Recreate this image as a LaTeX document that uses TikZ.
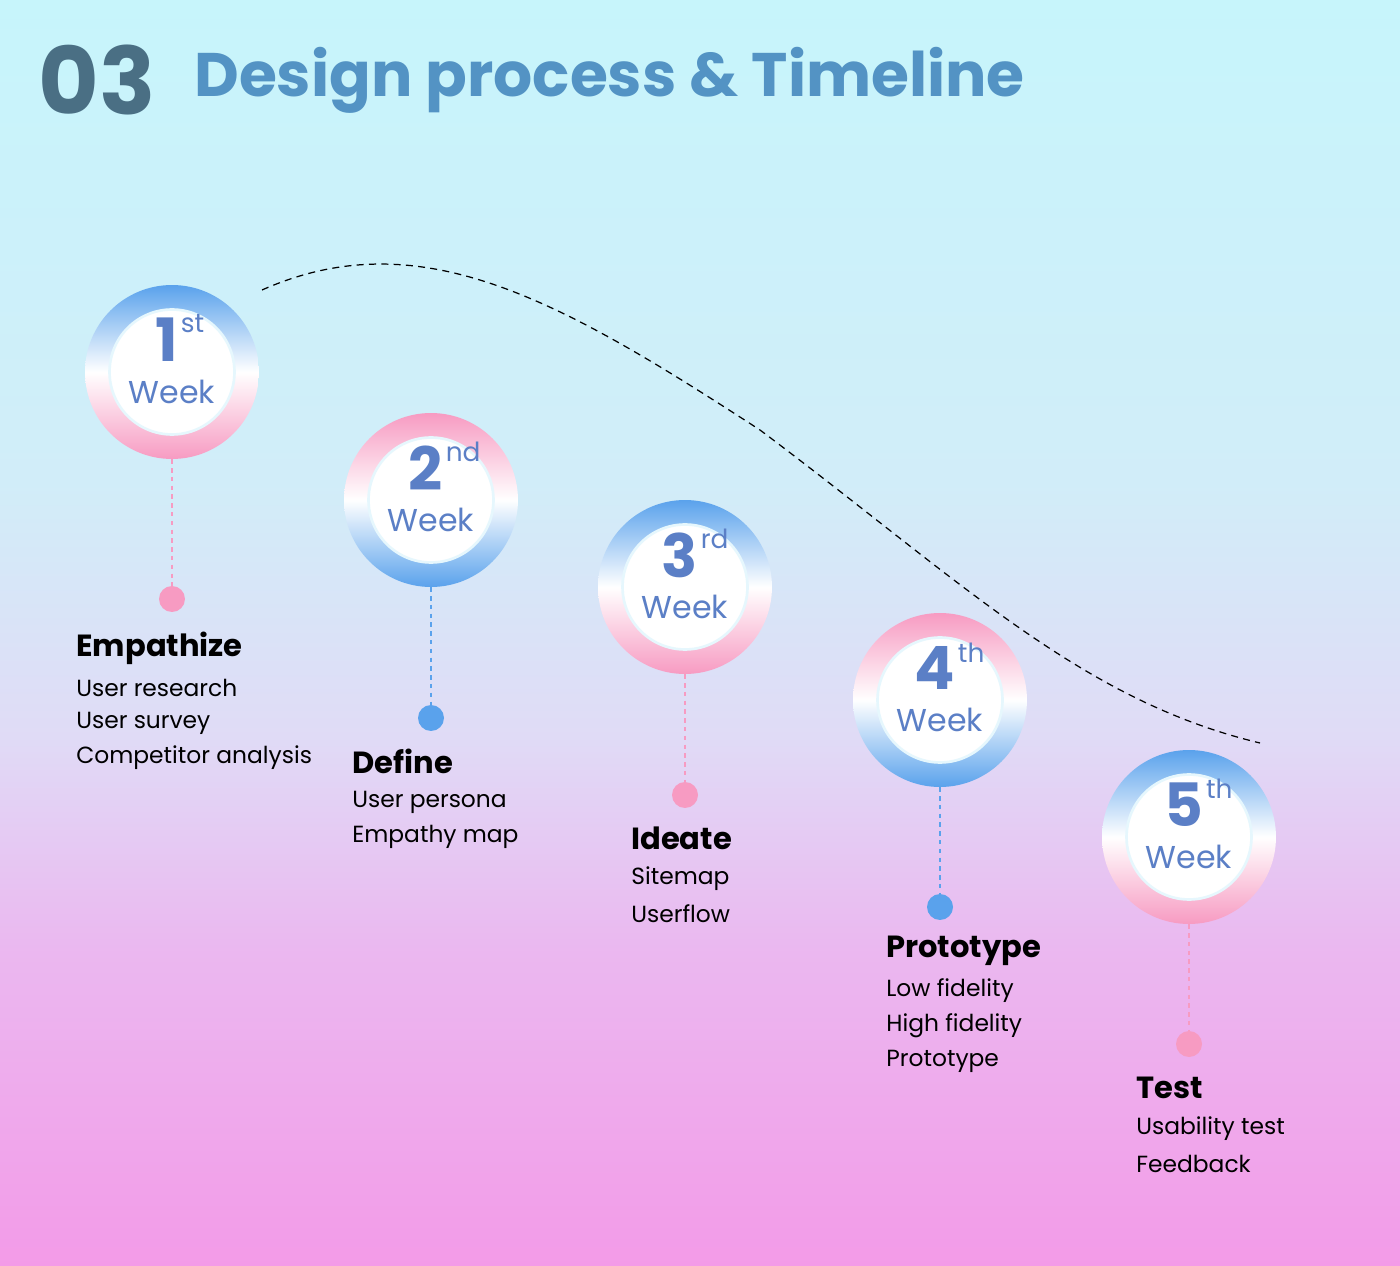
\documentclass[tikz,border=0pt]{standalone}
\usepackage{fontspec}
\setmainfont{Poppins}
\usetikzlibrary{positioning}
\definecolor{ringblue}{HTML}{5AA2EC}
\definecolor{ringpink}{HTML}{F79BC2}
\definecolor{weekblue}{HTML}{5B7FC6}
\definecolor{inkgrey}{HTML}{4A6F84}
\definecolor{titleblue}{HTML}{5393C4}
\pgfdeclareverticalshading{backdrop}{100bp}{
  rgb(0bp)=(0.953,0.608,0.910); rgb(25bp)=(0.953,0.608,0.910);
  rgb(37.5bp)=(0.920,0.720,0.940); rgb(46bp)=(0.878,0.860,0.965);
  rgb(56bp)=(0.820,0.930,0.975); rgb(75bp)=(0.780,0.960,0.985);
  rgb(100bp)=(0.780,0.960,0.985)}
\tikzset{
  ring/.style={circle, minimum size=3.48cm, inner sep=0pt},
  core/.style={circle, fill=white, draw=cyan!10, line width=1.5pt, minimum size=2.5cm, inner sep=0pt},
  dot/.style={circle, minimum size=0.52cm, inner sep=0pt},
  stem/.style={line width=0.6pt, dash pattern=on 2.5pt off 2.5pt},
  head/.style={anchor=west, font=\fontsize{17.4}{20}\selectfont\bfseries, inner sep=0pt},
  item/.style={anchor=west, font=\fontsize{13.3}{16}\selectfont, inner sep=0pt},
  weeknum/.style={font=\fontsize{34}{34}\selectfont\bfseries, text=weekblue, inner sep=0pt},
  weektxt/.style={font=\fontsize{18}{20}\selectfont, text=weekblue, inner sep=0pt},
}
\newcommand\weekring[5]{% name, x, y, top, bottom
  \node[ring, top color=#4, bottom color=#5, middle color=white] (#1) at (#2,#3) {};
  \node[core] (#1c) at (#1) {};
}
\begin{document}
\begin{tikzpicture}[x=0.02cm, y=-0.02cm]
\useasboundingbox (0,0) rectangle (1400,1266);
\shade[shading=backdrop] (0,0) rectangle (1400,1266);

% title
\node[anchor=west, font=\fontsize{53}{53}\selectfont\bfseries, text=inkgrey, inner sep=0pt] (num) at (38,80) {03};
\node[anchor=west, font=\fontsize{35}{35}\selectfont\bfseries, text=titleblue, inner sep=0pt] (title) at (194,80) {Design process \& Timeline};

% curve
\coordinate (cs) at (262,290);
\coordinate (ce) at (1260,743);
\draw[line width=0.7pt, dash pattern=on 4pt off 3pt] (cs) .. controls (420,220) and (560,300) .. (760,430) .. controls (960,580) and (1080,700) .. (ce);

% weeks
\weekring{w1}{172}{372}{ringblue}{ringpink}
\weekring{w2}{431}{500}{ringpink}{ringblue}
\weekring{w3}{685}{587}{ringblue}{ringpink}
\weekring{w4}{940}{700}{ringpink}{ringblue}
\weekring{w5}{1189}{837}{ringblue}{ringpink}

\foreach \w/\n/\s in {w1/1/st, w2/2/nd, w3/3/rd, w4/4/th, w5/5/th}{
  \node[weeknum] (\w n) at ([xshift=-0.1cm, yshift=0.64cm]\w) {\n};
  \node[weektxt, anchor=north west] at ([xshift=0.04cm, yshift=0.08cm]\w n.north east) {\fontsize{15}{15}\selectfont\mdseries\s};
  \node[weektxt] (\w t) at ([yshift=-0.4cm]\w) {Week};
}

% dots
\node[dot, fill=ringpink] (d1) at (172,599) {};
\node[dot, fill=ringblue] (d2) at (431,718) {};
\node[dot, fill=ringpink] (d3) at (685,795) {};
\node[dot, fill=ringblue] (d4) at (940,907) {};
\node[dot, fill=ringpink] (d5) at (1189,1044) {};
\draw[stem, ringpink] (w1) -- (d1);
\draw[stem, ringblue] (w2) -- (d2);
\draw[stem, ringpink] (w3) -- (d3);
\draw[stem, ringblue] (w4) -- (d4);
\draw[stem, ringpink] (w5) -- (d5);

% texts
\node[head] (h1) at (76,648) {Empathize};
\node[item] at (76,688) {User research};
\node[item] at (76,723) {User survey};
\node[item] at (76,758) {Competitor analysis};

\node[head] (h2) at (352,761) {Define};
\node[item] at (352,802) {User persona};
\node[item] at (352,837) {Empathy map};

\node[head] (h3) at (631,838) {Ideate};
\node[item] at (631,879) {Sitemap};
\node[item] at (631,914) {Userflow};

\node[head] (h4) at (886,951) {Prototype};
\node[item] at (886,991) {Low fidelity};
\node[item] at (886,1026) {High fidelity};
\node[item] at (886,1061) {Prototype};

\node[head] (h5) at (1136,1088) {Test};
\node[item] at (1136,1129) {Usability test};
\node[item] at (1136,1164) {Feedback};
\end{tikzpicture}
\end{document}
